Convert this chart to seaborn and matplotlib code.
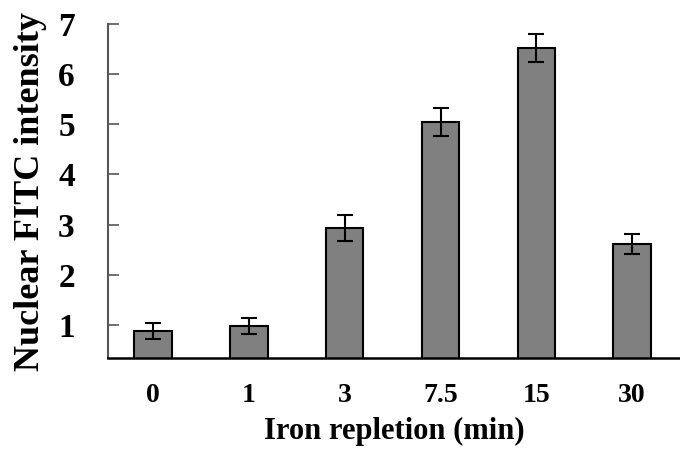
import matplotlib
matplotlib.use("Agg")
import matplotlib.pyplot as plt
import seaborn as sns
import pandas as pd
import numpy as np

categories = ["0", "1", "3", "7.5", "15", "30"]
means = [0.88, 0.98, 2.93, 5.05, 6.52, 2.62]
errors = [0.16, 0.16, 0.26, 0.28, 0.28, 0.2]
ytick_values = [1, 2, 3, 4, 5, 6, 7]

sns.set_theme(style="white")
plt.rcParams["font.family"] = ["Liberation Serif", "DejaVu Serif"]
plt.rcParams["font.weight"] = "bold"
plt.rcParams["text.color"] = "black"
plt.rcParams["axes.labelcolor"] = "black"
plt.rcParams["xtick.color"] = "black"
plt.rcParams["ytick.color"] = "black"

df = pd.DataFrame({"time": categories, "value": means})

fig = plt.figure(figsize=(6.8, 4.5), dpi=100)
ax = fig.add_axes([0.159, 0.204, 0.841, 0.743])

sns.barplot(data=df, x="time", y="value", order=categories, color="#808080",
            saturation=1, width=0.39, edgecolor="black", linewidth=1.5,
            errorbar=None, ax=ax)
ax.errorbar(np.arange(len(categories)), means, yerr=errors, fmt="none",
            ecolor="black", elinewidth=1.5, capsize=6, capthick=1.5)

ax.set_xlim(-0.47, 5.5)
ax.set_ylim(0.34, 7)
ax.set_yticks(ytick_values)
ax.set_yticklabels([str(v) for v in ytick_values], fontsize=24, fontweight="bold")
ax.set_xticks(np.arange(len(categories)))
ax.set_xticklabels(categories, fontsize=20, fontweight="bold")
ax.set_xticks(np.arange(len(categories)) + 0.5, minor=True)
ax.tick_params(axis="x", which="major", length=0, pad=18)
ax.tick_params(axis="x", which="minor", direction="in", length=7, width=1.2, color="#333333")
ax.tick_params(axis="y", direction="in", length=8, width=1.2, color="#555555", pad=24, left=True)

for s in ["top", "right"]:
    ax.spines[s].set_visible(False)
ax.spines["left"].set_color("#555555")
ax.spines["left"].set_linewidth(1.5)
ax.spines["bottom"].set_color("black")
ax.spines["bottom"].set_linewidth(1.8)

ax.set_xlabel("Iron repletion (min)", fontsize=22, fontweight="bold", labelpad=6)
ax.set_ylabel("Nuclear FITC intensity", fontsize=26, fontweight="bold", labelpad=8)

fig.savefig("out.png", dpi=100)
